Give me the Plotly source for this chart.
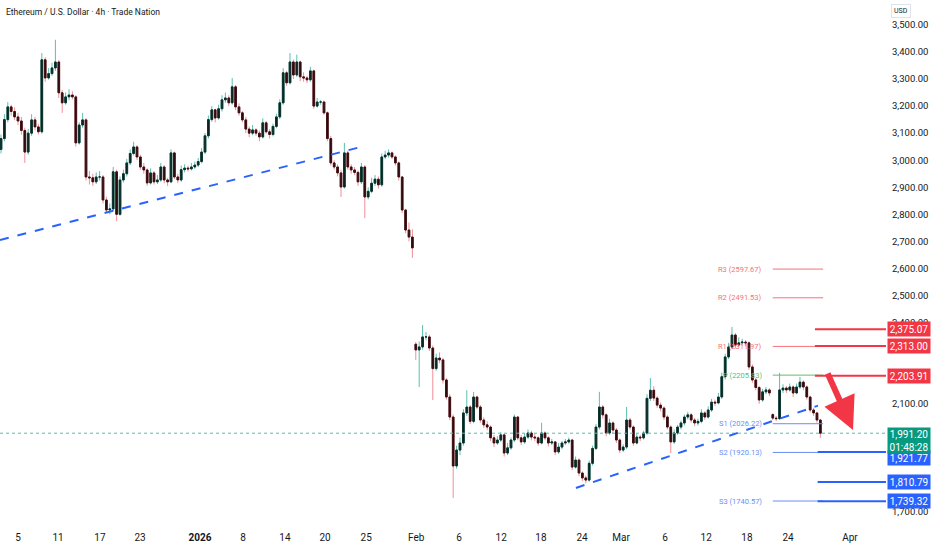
import plotly.graph_objects as go

# ETH/USD, Trade Nation CFD, 8h bars (weekend sessions skipped)
opens = [
    3040, 3080, 3150, 3197, 3180, 3160, 3145, 3110, 3030, 3100,
    3149, 3123, 3105, 3371, 3304, 3320, 3341, 3363, 3249, 3212,
    3234, 3241, 3234, 3064, 3130, 3149, 2938, 2935, 2920, 2938,
    2938, 2853, 2816, 2820, 2957, 2800, 2927, 2950, 2990, 3025,
    3049, 3012, 2975, 2964, 2916, 2953, 2920, 2927, 2975, 2927,
    2920, 3027, 2938, 2927, 2965, 2971, 2968, 2975, 2982, 2995,
    3030, 3090, 3150, 3186, 3156, 3190, 3223, 3230, 3212, 3271,
    3197, 3175, 3149, 3115, 3100, 3112, 3100, 3086, 3138, 3105,
    3095, 3125, 3160, 3212, 3323, 3286, 3363, 3315, 3363, 3308,
    3304, 3297, 3330, 3200, 3215, 3215, 3175, 3080, 2990, 2975,
    2953, 2901, 3027, 2975, 2964, 2955, 2920, 2975, 2864, 2885,
    2915, 2930, 2909, 3012, 3019, 3027, 3012, 2990, 2938, 2816,
    2742, 2716, 2320, 2299, 2310, 2347, 2347, 2306, 2230, 2269,
    2262, 2188, 2125, 2051, 1870, 1929, 1955, 2066, 2088, 2035,
    2125, 2088, 2040, 2022, 2014, 1974, 1955, 1966, 1985, 1918,
    1937, 1966, 2051, 1974, 1959, 1977, 1992, 1977, 1974, 1955,
    1992, 1974, 1955, 1959, 1922, 1940, 1955, 1959, 1966, 1866,
    1892, 1844, 1826, 1818, 1880, 1935, 2014, 2088, 2059, 1992,
    2029, 2003, 1966, 1929, 1940, 2040, 2014, 1955, 1977, 1974,
    1992, 2120, 2150, 2121, 2095, 2084, 2051, 2014, 1959, 1992,
    2014, 2029, 2051, 2059, 2040, 2029, 2035, 2066, 2051, 2077,
    2106, 2103, 2125, 2200, 2273, 2310, 2354, 2317, 2325, 2328,
    2325, 2236, 2188, 2160, 2114, 2144, 2151, 2060, 2047, 2045,
    2151, 2158, 2151, 2162, 2140, 2162, 2180, 2162, 2125, 2077,
    2066, 2040,
]
highs = [
    3095, 3170, 3215, 3205, 3195, 3175, 3160, 3120, 3115, 3170,
    3160, 3135, 3396, 3380, 3340, 3360, 3445, 3370, 3260, 3250,
    3262, 3255, 3240, 3140, 3175, 3155, 2960, 2950, 2955, 2960,
    2945, 2865, 2840, 2975, 2965, 2940, 2965, 3005, 3040, 3068,
    3055, 3020, 2990, 2970, 2970, 2960, 2945, 2990, 2982, 2935,
    3040, 3032, 2950, 2980, 2985, 2980, 2990, 2995, 3008, 3045,
    3100, 3165, 3200, 3190, 3205, 3240, 3250, 3240, 3304, 3278,
    3210, 3182, 3160, 3125, 3130, 3118, 3110, 3155, 3145, 3115,
    3135, 3172, 3225, 3340, 3330, 3396, 3372, 3390, 3368, 3325,
    3312, 3345, 3335, 3230, 3222, 3220, 3180, 3090, 3000, 2985,
    2965, 3064, 3035, 2985, 2975, 2962, 2990, 2982, 2900, 2935,
    2945, 2940, 3025, 3035, 3040, 3032, 3018, 2995, 2942, 2820,
    2770, 2745, 2328, 2330, 2391, 2365, 2355, 2315, 2285, 2290,
    2270, 2195, 2135, 2060, 1945, 1975, 2080, 2150, 2095, 2144,
    2130, 2095, 2050, 2035, 2020, 1985, 1980, 1995, 1990, 1955,
    1975, 2060, 2055, 1985, 1990, 2005, 2000, 1990, 1980, 2030,
    1998, 1980, 1970, 1962, 1955, 1962, 1970, 1975, 1970, 1905,
    1898, 1850, 1835, 1890, 1945, 2025, 2144, 2095, 2065, 2045,
    2035, 2010, 1972, 1950, 2088, 2048, 2020, 1990, 1985, 2000,
    2135, 2195, 2165, 2128, 2105, 2090, 2058, 2020, 2005, 2022,
    2038, 2060, 2070, 2065, 2048, 2045, 2080, 2072, 2090, 2118,
    2115, 2140, 2215, 2285, 2325, 2384, 2362, 2345, 2340, 2335,
    2330, 2245, 2195, 2166, 2155, 2162, 2158, 2065, 2055, 2214,
    2172, 2165, 2175, 2168, 2175, 2199, 2186, 2168, 2130, 2085,
    2070, 2044,
]
lows = [
    3025, 3070, 3140, 3165, 3148, 3130, 3095, 2990, 3020, 3090,
    3110, 3095, 3098, 3290, 3298, 3312, 3330, 3230, 3175, 3205,
    3222, 3225, 3050, 3058, 3120, 2925, 2910, 2905, 2912, 2925,
    2840, 2805, 2800, 2812, 2775, 2795, 2918, 2940, 2982, 3018,
    3000, 2965, 2950, 2905, 2910, 2910, 2912, 2920, 2915, 2905,
    2915, 2930, 2915, 2920, 2955, 2958, 2962, 2968, 2975, 2988,
    3022, 3080, 3142, 3140, 3150, 3180, 3212, 3200, 3205, 3185,
    3165, 3140, 3100, 3085, 3092, 3090, 3070, 3080, 3098, 3080,
    3088, 3118, 3152, 3205, 3275, 3280, 3300, 3308, 3292, 3290,
    3285, 3290, 3190, 3195, 3205, 3168, 3070, 2980, 2965, 2940,
    2864, 2895, 2965, 2950, 2945, 2905, 2912, 2786, 2855, 2878,
    2905, 2895, 2902, 3005, 3010, 3005, 2980, 2925, 2805, 2730,
    2700, 2639, 2262, 2162, 2300, 2335, 2295, 2114, 2222, 2250,
    2175, 2115, 2040, 1752, 1860, 1910, 1945, 2055, 2025, 2028,
    2080, 2030, 2010, 2002, 1962, 1940, 1948, 1958, 1905, 1910,
    1930, 1958, 1965, 1948, 1952, 1970, 1965, 1962, 1945, 1950,
    1965, 1942, 1948, 1910, 1915, 1932, 1948, 1952, 1855, 1860,
    1832, 1815, 1806, 1812, 1872, 1928, 2005, 2045, 1980, 1985,
    1990, 1955, 1918, 1922, 1932, 2005, 1945, 1950, 1962, 1968,
    1985, 2110, 2110, 2085, 2072, 2040, 2005, 1918, 1952, 1985,
    2005, 2020, 2042, 2030, 2018, 2020, 2028, 2040, 2045, 2070,
    2092, 2098, 2118, 2190, 2265, 2302, 2305, 2310, 2315, 2312,
    2225, 2178, 2150, 2100, 2108, 2135, 2128, 2040, 2036, 2040,
    2140, 2140, 2145, 2125, 2135, 2155, 2150, 2115, 2068, 2055,
    2030, 1974,
]
closes = [
    3080, 3150, 3197, 3180, 3160, 3145, 3110, 3030, 3100, 3149,
    3123, 3105, 3371, 3304, 3320, 3341, 3363, 3249, 3212, 3234,
    3241, 3234, 3064, 3130, 3149, 2938, 2935, 2920, 2938, 2938,
    2853, 2816, 2820, 2957, 2800, 2927, 2950, 2990, 3025, 3049,
    3012, 2975, 2964, 2916, 2953, 2920, 2927, 2975, 2927, 2920,
    3027, 2938, 2927, 2965, 2971, 2968, 2975, 2982, 2995, 3030,
    3090, 3150, 3186, 3156, 3190, 3223, 3230, 3212, 3271, 3197,
    3175, 3149, 3115, 3100, 3112, 3100, 3086, 3138, 3105, 3095,
    3125, 3160, 3212, 3323, 3286, 3363, 3315, 3363, 3308, 3304,
    3297, 3330, 3200, 3215, 3215, 3175, 3080, 2990, 2975, 2953,
    2901, 3027, 2975, 2964, 2955, 2920, 2975, 2864, 2885, 2915,
    2930, 2909, 3012, 3019, 3027, 3012, 2990, 2938, 2816, 2742,
    2716, 2676, 2299, 2310, 2347, 2347, 2306, 2230, 2269, 2262,
    2188, 2125, 2051, 1870, 1929, 1955, 2066, 2088, 2035, 2125,
    2088, 2040, 2022, 2014, 1974, 1955, 1966, 1985, 1918, 1937,
    1966, 2051, 1974, 1959, 1977, 1992, 1977, 1974, 1955, 1992,
    1974, 1955, 1959, 1922, 1940, 1955, 1959, 1966, 1866, 1892,
    1844, 1826, 1818, 1880, 1935, 2014, 2088, 2059, 1992, 2029,
    2003, 1966, 1929, 1940, 2040, 2014, 1955, 1977, 1974, 1992,
    2120, 2150, 2121, 2095, 2084, 2051, 2014, 1959, 1992, 2014,
    2029, 2051, 2059, 2040, 2029, 2035, 2066, 2051, 2077, 2106,
    2103, 2125, 2200, 2273, 2310, 2354, 2317, 2325, 2328, 2325,
    2236, 2188, 2160, 2114, 2144, 2151, 2140, 2047, 2045, 2151,
    2158, 2151, 2162, 2140, 2162, 2180, 2162, 2125, 2077, 2066,
    2040, 1991.2,
]

# date labels and the bar they fall on
tick_bars = [5, 16.8, 29.1, 40.9, 58.5, 71.2, 83.5, 95.3, 107.4, 122.1,
             134.7, 147.1, 158.8, 170.9, 182.4, 195.3, 207.4, 219.4, 231.5, 249.7]
tick_labels = ["5", "11", "17", "23", "<b>2026</b>", "8", "14", "20", "25", "Feb",
               "6", "12", "18", "24", "Mar", "6", "12", "18", "24", "Apr"]

# price scale labels left visible (the rest sit under the level tags)
price_ticks = [1700, 2100, 2400, 2500, 2600, 2700, 2800, 2900, 3000, 3100, 3200, 3300, 3400, 3500]

# pivot points (classic)
pivot_names = ["R3", "R2", "R1", "P", "S1", "S2", "S3"]
pivot_values = [2597.67, 2491.53, 2311.97, 2205.83, 2026.22, 1920.13, 1740.57]

# key levels marked on the price scale
resistance_levels = [2375.07, 2313.00, 2203.91]
support_levels = [1921.77, 1810.79, 1739.32]

last_price = 1991.20
countdown = "01:48:28"

_RED = "#f23645"
_BLUE = "#2962ff"
_GREEN = "#089981"
_TEXT = "#131722"
_FONT = "Roboto"

X_MIN, X_MAX = -0.294, 260.3

bars = list(range(len(closes)))
body_top = [max(o, c) for o, c in zip(opens, closes)]
body_bot = [min(o, c) for o, c in zip(opens, closes)]

fig = go.Figure()
# full candles, coloured (these give the wicks)
fig.add_trace(go.Candlestick(
    x=bars, open=opens, high=highs, low=lows, close=closes,
    increasing={"line": {"color": "#5cbfb2", "width": 1}, "fillcolor": "#5cbfb2"},
    decreasing={"line": {"color": "#f08f95", "width": 1}, "fillcolor": "#f08f95"},
    hoverinfo="skip",
    showlegend=False,
))
# dark bodies drawn over them
fig.add_trace(go.Candlestick(
    x=bars, open=opens, high=body_top, low=body_bot, close=closes,
    increasing={"line": {"color": "#10302b", "width": 1}, "fillcolor": "#0c1f1c"},
    decreasing={"line": {"color": "#3a1216", "width": 1}, "fillcolor": "#230a0c"},
    hoverinfo="skip",
    showlegend=False,
))

# current price dotted line
fig.add_shape(type="line", xref="x", x0=X_MIN, x1=X_MAX, y0=last_price, y1=last_price,
              line={"color": "#5fb8ac", "width": 1, "dash": "dot"})

# trendlines
fig.add_shape(type="line", x0=-0.3, y0=2705, x1=107.1, y1=3053,
              line={"color": _BLUE, "width": 2, "dash": "dash"})
fig.add_shape(type="line", x0=169.1, y0=1789, x1=240.3, y1=2093,
              line={"color": _BLUE, "width": 2, "dash": "dash"})

# pivot lines + labels
piv_from, piv_to = 227.0, 241.8
for name, val in zip(pivot_names, pivot_values):
    if name.startswith("R"):
        col = "#f7707a"
    elif name == "P":
        col = "#66bb6a"
    else:
        col = "#6a8ff5"
    fig.add_shape(type="line", x0=piv_from, x1=piv_to, y0=val, y1=val,
                  line={"color": col, "width": 1})
    fig.add_annotation(x=piv_from, y=val, text=f"{name} ({val:.2f})", showarrow=False,
                       xanchor="right", yanchor="middle", xshift=-9,
                       font={"color": col, "size": 7.5, "family": _FONT})

# key levels run to the price scale
for lvl in resistance_levels:
    fig.add_shape(type="line", x0=239.4, x1=X_MAX, y0=lvl, y1=lvl,
                  line={"color": _RED, "width": 2})
for lvl in support_levels:
    fig.add_shape(type="line", x0=240.2, x1=X_MAX, y0=lvl, y1=lvl,
                  line={"color": _BLUE, "width": 2})


def price_tag(y, text, bg, h=12, yanchor="middle", yshift=0, size=10):
    fig.add_annotation(x=1, xref="paper", y=y, yref="y", text=text, showarrow=False,
                       xanchor="left", yanchor=yanchor, yshift=yshift, xshift=1,
                       bgcolor=bg, width=40, height=h, borderpad=1, align="center",
                       font={"color": "white", "size": size, "family": _FONT})


for lvl in resistance_levels:
    price_tag(lvl, f"{lvl:,.2f}", _RED)
for i, lvl in enumerate(support_levels):
    # the first tag is nudged down so it clears the last-price tag
    price_tag(lvl, f"{lvl:,.2f}", _BLUE, yshift=-6 if i == 0 else 0)
price_tag(last_price, f"{last_price:,.2f}<br>{countdown}", _GREEN, h=23, yanchor="top", yshift=6)

# forecast arrow
fig.add_annotation(x=250.6, y=2003, ax=-26, ay=-58, text="", showarrow=True,
                   arrowhead=2, arrowsize=1.1, arrowwidth=6, arrowcolor=_RED, standoff=0)

# header
fig.add_annotation(x=0, xref="paper", y=1, yref="paper", xshift=4, yshift=-5,
                   text="Ethereum / U.S. Dollar · 4h · Trade Nation", showarrow=False,
                   xanchor="left", yanchor="top", font={"color": _TEXT, "size": 8.5, "family": _FONT})
fig.add_annotation(x=1, xref="paper", y=1, yref="paper", xshift=5, yshift=-4,
                   text="USD", showarrow=False, xanchor="left", yanchor="top",
                   bordercolor="#e0e3eb", borderwidth=1, borderpad=2,
                   font={"color": _TEXT, "size": 7, "family": _FONT})

fig.update_layout(
    width=932,
    height=550,
    paper_bgcolor="white",
    plot_bgcolor="white",
    margin={"l": 0, "r": 46, "t": 0, "b": 25},
    font={"family": _FONT, "color": _TEXT, "size": 10},
    showlegend=False,
    xaxis={
        "range": [X_MIN, X_MAX],
        "rangeslider": {"visible": False},
        "showgrid": False,
        "zeroline": False,
        "showline": False,
        "tickvals": tick_bars,
        "ticktext": tick_labels,
        "ticks": "outside",
        "ticklen": 3,
        "tickcolor": "white",
        "tickfont": {"size": 10, "color": _TEXT},
        "fixedrange": True,
    },
    yaxis={
        "side": "right",
        "range": [1652, 3592],
        "showgrid": False,
        "zeroline": False,
        "showline": False,
        "tickvals": price_ticks,
        "tickformat": ",.2f",
        "ticks": "",
        "ticklabelstandoff": 5,
        "tickfont": {"size": 9.5, "color": _TEXT},
        "fixedrange": True,
    },
)

fig.write_html(
    "out.html",
    config={"displayModeBar": False},
    post_script="document.body.style.margin='0';document.body.style.padding='0';",
)
